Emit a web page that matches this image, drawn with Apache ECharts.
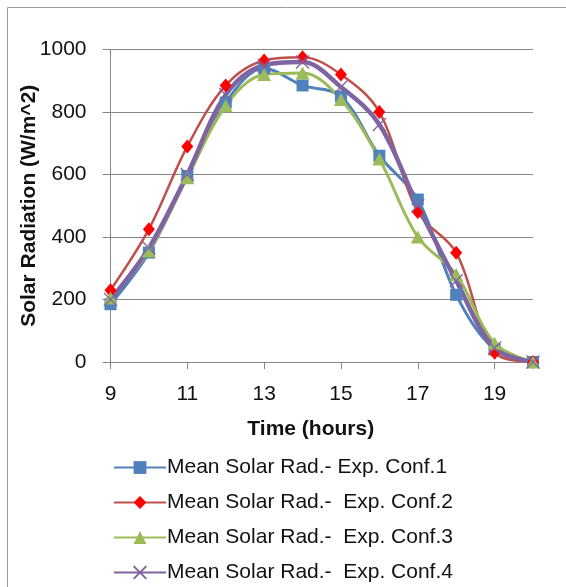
<!DOCTYPE html>
<html>
<head>
<meta charset="utf-8">
<script src="https://cdn.jsdelivr.net/npm/echarts@6/dist/echarts.min.js"></script>
<style>
  html, body { margin: 0; padding: 0; background: #fff; }
  #chart { width: 566px; height: 587px; }
</style>
</head>
<body>
<div id="chart"></div>
<script>
// Hourly mean solar radiation for four experimental configurations
const hours = [9, 10, 11, 12, 13, 14, 15, 16, 17, 18, 19, 20];
const conf1 = [185, 350, 595, 830, 940, 885, 850, 660, 520, 215, 40, 0];
const conf2 = [230, 425, 690, 885, 965, 975, 920, 800, 480, 350, 30, 0];
const conf3 = [205, 355, 590, 820, 920, 925, 840, 650, 400, 280, 60, 0];
const conf4 = [200, 365, 600, 855, 950, 960, 880, 760, 500, 260, 45, 0];
const xTickValues = [9, 11, 13, 15, 17, 19];
const seriesNames = [
  'Mean Solar Rad.- Exp. Conf.1',
  'Mean Solar Rad.-  Exp. Conf.2',
  'Mean Solar Rad.-  Exp. Conf.3',
  'Mean Solar Rad.-  Exp. Conf.4'
];

const FONT = "'Liberation Sans', Arial, sans-serif";
const AXIS_GREY = '#868686';

function pairs(values) {
  return hours.map((h, i) => [h, values[i]]);
}

const chart = echarts.init(document.getElementById('chart'), null, { renderer: 'canvas' });

chart.setOption({
  animation: false,
  backgroundColor: '#ffffff',
  textStyle: { fontFamily: FONT },
  graphic: [
    {
      type: 'polyline',
      silent: true,
      shape: { points: [[7.5, 587], [7.5, 7.5], [566, 7.5]] },
      style: { stroke: '#9a9a9a', lineWidth: 1, fill: null }
    }
  ],
  grid: { left: 110.5, top: 49.5, right: 33, bottom: 225 },
  legend: {
    orient: 'vertical',
    left: 108,
    top: 452,
    height: 135,
    itemWidth: 52,
    itemHeight: 16,
    itemGap: 14,
    textStyle: { fontFamily: FONT, fontSize: 21, color: '#111', lineHeight: 20.5, padding: [0, 0, 0, -4] },
    data: seriesNames
  },
  xAxis: {
    type: 'value',
    min: 9,
    max: 20,
    name: 'Time (hours)',
    nameLocation: 'middle',
    nameGap: 57,
    nameMoveOverlap: false,
    nameTextStyle: { fontFamily: FONT, fontSize: 21, fontWeight: 'bold', color: '#111', padding: [0, 22, 0, 0] },
    axisLine: { show: true, lineStyle: { color: AXIS_GREY, width: 1 } },
    axisTick: { show: true, length: 7, lineStyle: { color: AXIS_GREY }, customValues: xTickValues },
    axisLabel: { fontFamily: FONT, fontSize: 21, color: '#111', margin: 22, customValues: xTickValues },
    splitLine: { show: false }
  },
  yAxis: {
    type: 'value',
    min: 0,
    max: 1000,
    interval: 200,
    name: 'Solar Radiation (W/m^2)',
    nameLocation: 'middle',
    nameGap: 71,
    nameMoveOverlap: false,
    nameTextStyle: { fontFamily: FONT, fontSize: 21, fontWeight: 'bold', color: '#111' },
    axisLine: { show: true, lineStyle: { color: AXIS_GREY, width: 1 } },
    axisTick: { show: true, length: 8, lineStyle: { color: AXIS_GREY } },
    axisLabel: { fontFamily: FONT, fontSize: 21, color: '#111', margin: 24, formatter: v => String(v) },
    splitLine: { show: true, lineStyle: { color: AXIS_GREY, width: 1 } }
  },
  series: [
    {
      name: seriesNames[0],
      type: 'line',
      smooth: 0.35,
      data: pairs(conf1),
      symbol: 'rect',
      symbolSize: 12,
      lineStyle: { color: '#4F81BD', width: 3 },
      itemStyle: { color: '#4F81BD' }
    },
    {
      name: seriesNames[1],
      type: 'line',
      smooth: 0.35,
      data: pairs(conf2),
      symbol: 'diamond',
      symbolSize: [12, 14],
      lineStyle: { color: '#C0504D', width: 2.5 },
      itemStyle: { color: '#FF0000' }
    },
    {
      name: seriesNames[2],
      type: 'line',
      smooth: 0.35,
      data: pairs(conf3),
      symbol: 'triangle',
      symbolSize: [14, 13],
      lineStyle: { color: '#9BBB59', width: 3 },
      itemStyle: { color: '#9BBB59' }
    },
    {
      name: seriesNames[3],
      type: 'line',
      smooth: 0.35,
      data: pairs(conf4),
      symbol: 'path://M0,0L10,10M10,0L0,10',
      symbolSize: 13,
      lineStyle: { color: '#8064A2', width: 4.5 },
      itemStyle: { color: '#8064A2', borderColor: '#8064A2', borderWidth: 1.3 }
    }
  ]
});
</script>
</body>
</html>
